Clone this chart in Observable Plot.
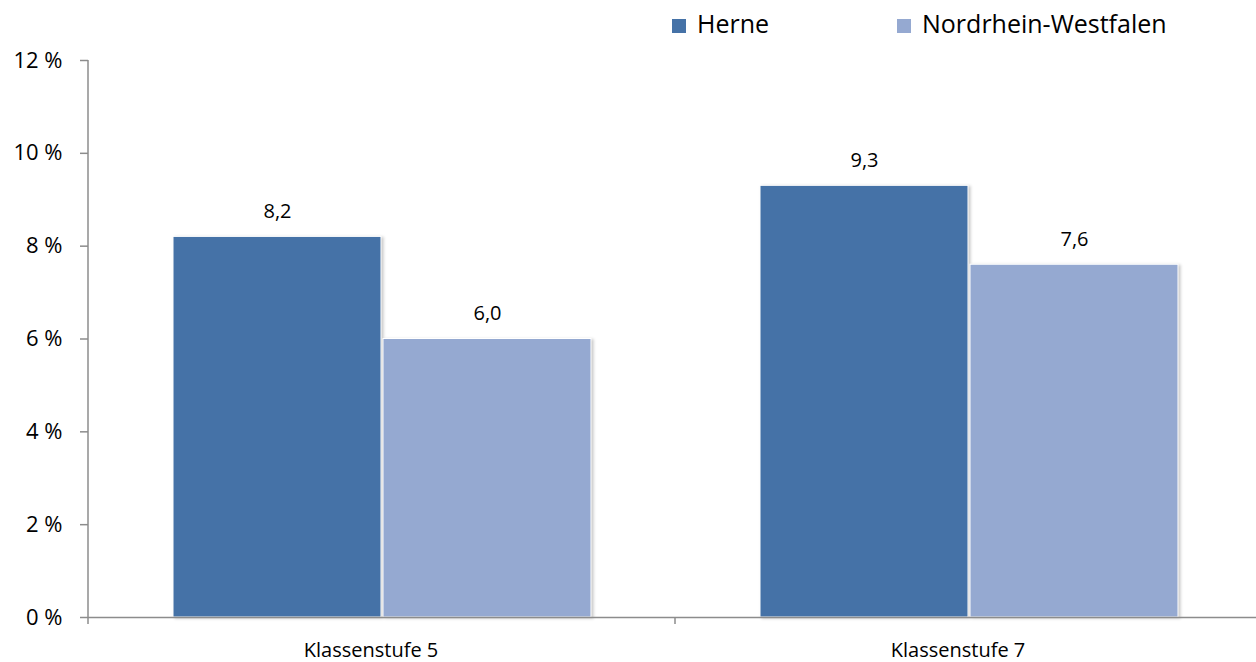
<!DOCTYPE html>
<html><head><meta charset="utf-8">
<script src="https://cdn.jsdelivr.net/npm/d3@7"></script>
<script src="https://cdn.jsdelivr.net/npm/@observablehq/plot@0.6"></script>
<style>
body{margin:0;background:#fff;font-family:"Open Sans",sans-serif;}
#wrap{position:relative;width:1256px;height:662px;overflow:hidden;}
#legend{position:absolute;top:0;left:0;width:1256px;height:50px;z-index:2;}
.sw{position:absolute;top:19px;width:14px;height:14px;}
.tx{position:absolute;top:11px;font-size:25px;line-height:25px;color:#000;white-space:nowrap;}
g[aria-label="bar"] rect{filter:drop-shadow(2px 1px 1.5px rgba(0,0,0,0.22));}
</style></head><body><div id="wrap"><div id="legend"></div><div id="chart"></div></div>
<script>
const categories = ["Klassenstufe 5", "Klassenstufe 7"];
const series = ["Herne", "Nordrhein-Westfalen"];
const herne = [8.2, 9.3];
const nrw = [6.0, 7.6];
const yTicks = [0, 2, 4, 6, 8, 10, 12];
const colors = ["#4572A7", "#95A9D1"];
const axisColor = "#8c8c8c";

const values = {"Herne": herne, "Nordrhein-Westfalen": nrw};
const data = categories.flatMap((c, i) => series.map(s => ({cat: c, series: s, value: values[s][i]})));
const fmt = v => d3.format(".1f")(v).replace(".", ",");

// legend
const legend = document.getElementById("legend");
const swatchLeft = [672, 897];
series.forEach((s, i) => {
  const sw = document.createElement("div");
  sw.className = "sw";
  sw.style.left = swatchLeft[i] + "px";
  sw.style.background = colors[i];
  const tx = document.createElement("div");
  tx.className = "tx";
  tx.style.left = (swatchLeft[i] + 25) + "px";
  tx.textContent = s;
  legend.appendChild(sw); legend.appendChild(tx);
});

const plot = Plot.plot({
  width: 1256, height: 662,
  marginTop: 60, marginBottom: 45, marginLeft: 88, marginRight: -6,
  style: {fontFamily: "Open Sans, sans-serif", fontSize: "20px", color: "#000", background: "transparent", overflow: "visible"},
  fx: {domain: categories, padding: 0, label: null},
  x: {domain: series, paddingInner: 0.01, paddingOuter: 0.4, axis: null},
  y: {domain: [0, 12], label: null},
  color: {domain: series, range: colors},
  marks: [
    Plot.axisY({ticks: yTicks, tickFormat: d => d + " %", tickSize: 8, tickPadding: 18, fontSize: 22, stroke: axisColor, strokeWidth: 1.5, strokeOpacity: 1, label: null}),
    Plot.axisFx({anchor: "bottom", tickSize: 0, tickPadding: 25, dx: -11, fontSize: 20, label: null}),
    Plot.barY(data, {fx: "cat", x: "series", y: "value", fill: "series", stroke: "white", strokeWidth: 1}),
    Plot.text(data, {fx: "cat", x: "series", y: "value", text: d => fmt(d.value), dy: -25, fontSize: 20, fill: "#000"}),
    Plot.ruleY([0], {stroke: axisColor, strokeWidth: 1.5})
  ]
});
document.getElementById("chart").appendChild(plot);

// axis line and category separator ticks derived from the scales
const ys = plot.scale("y"), fxs = plot.scale("fx");
const svg = d3.select(plot);
const y0 = ys.apply(0), yTop = ys.apply(12);
const xLeft = fxs.apply(categories[0]);
const g = svg.append("g").attr("stroke", axisColor).attr("stroke-width", 1.5);
g.append("line").attr("x1", xLeft).attr("x2", xLeft).attr("y1", yTop).attr("y2", y0 + 7);
categories.slice(1).forEach(c => {
  const bx = fxs.apply(c);
  g.append("line").attr("x1", bx).attr("x2", bx).attr("y1", y0).attr("y2", y0 + 7);
});
</script></body></html>
